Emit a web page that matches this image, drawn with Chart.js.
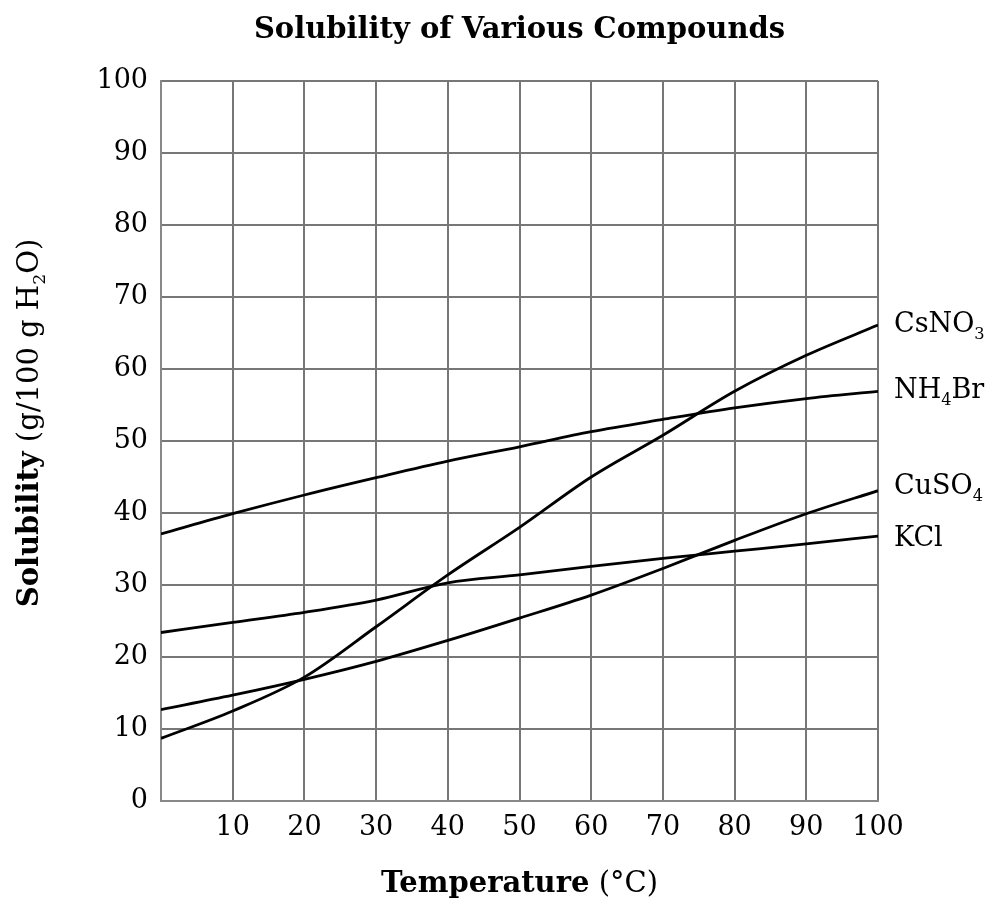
<!DOCTYPE html>
<html>
<head>
<meta charset="utf-8">
<script src="https://cdn.jsdelivr.net/npm/chart.js@4"></script>
<style>
  html, body { margin: 0; padding: 0; background: #fff; }
  #wrap { width: 998px; height: 913px; }
</style>
</head>
<body>
<div id="wrap"><canvas id="chart"></canvas></div>
<script>
// temperature (°C) and solubility (g/100 g H2O)
const temps = [0, 10, 20, 30, 40, 50, 60, 70, 80, 90, 100];
const csno3 = [8.7, 12.5, 17.2, 24.2, 31.4, 38.0, 45.0, 50.8, 56.9, 61.9, 66.1];
const nh4br = [37.1, 39.9, 42.5, 44.9, 47.2, 49.2, 51.3, 53.0, 54.6, 55.9, 56.9];
const cuso4 = [12.7, 14.7, 16.9, 19.4, 22.3, 25.4, 28.6, 32.3, 36.2, 39.9, 43.1];
const kcl = [23.4, 24.8, 26.2, 27.9, 30.3, 31.4, 32.6, 33.7, 34.7, 35.7, 36.8];

// curve labels, each part: text + subscript flag
const seriesNames = [
  [['CsNO'], ['3', 1]],
  [['NH'], ['4', 1], ['Br']],
  [['CuSO'], ['4', 1]],
  [['KCl']]
];
const seriesData = [csno3, nh4br, cuso4, kcl];
// small nudges so CuSO4 / KCl labels don't collide (px)
const labelNudge = [0, 0, -4, 3];

const SERIF = '"DejaVu Serif", serif';

function font(size, bold) {
  return (bold ? 'bold ' : '') + size + 'px ' + SERIF;
}

// draw text made of runs [text, sub?, bold?]
function drawRuns(ctx, runs, x, y, size, align) {
  let total = 0;
  const widths = runs.map(r => {
    const s = r[1] ? size * 0.6 : size;
    ctx.font = font(s, r[2]);
    const w = ctx.measureText(r[0]).width;
    total += w;
    return w;
  });
  let cx = align === 'center' ? x - total / 2 : x;
  ctx.textBaseline = 'middle';
  ctx.textAlign = 'left';
  runs.forEach((r, i) => {
    const s = r[1] ? size * 0.6 : size;
    ctx.font = font(s, r[2]);
    ctx.fillText(r[0], cx, r[1] ? y + size * 0.36 : y);
    cx += widths[i];
  });
}

const textPlugin = {
  id: 'texts',
  afterDraw(chart) {
    const ctx = chart.ctx;
    const area = chart.chartArea;
    const ys = chart.scales.y;
    ctx.save();
    ctx.fillStyle = '#000';

    // title
    drawRuns(ctx, [['Solubility of Various Compounds', 0, 1]], (area.left + area.right) / 2, 30, 29, 'center');

    // x axis title
    drawRuns(ctx, [['Temperature', 0, 1], [' (°C)', 0, 0]], (area.left + area.right) / 2, 884, 29, 'center');

    // y axis title, rotated
    ctx.save();
    ctx.translate(30, 423);
    ctx.rotate(-Math.PI / 2);
    drawRuns(ctx, [['Solubility', 0, 1], [' (g/100 g H', 0, 0], ['2', 1, 0], ['O)', 0, 0]], 0, 0, 29, 'center');
    ctx.restore();

    // curve labels at the right end of each line
    seriesNames.forEach((runs, i) => {
      const d = seriesData[i];
      const y = ys.getPixelForValue(d[d.length - 1]) + labelNudge[i];
      drawRuns(ctx, runs, area.right + 16, y, 27, 'left');
    });
    ctx.restore();
  }
};

function mkSet(values) {
  return {
    data: values.map((v, i) => ({ x: temps[i], y: v })),
    borderColor: '#000',
    borderWidth: 2.8,
    pointRadius: 0,
    fill: false,
    cubicInterpolationMode: 'monotone'
  };
}

new Chart(document.getElementById('chart'), {
  type: 'line',
  data: { datasets: seriesData.map(mkSet) },
  options: {
    responsive: true,
    maintainAspectRatio: false,
    animation: false,
    layout: { padding: { top: 81, right: 120, bottom: 0, left: 0 } },
    plugins: { legend: { display: false }, tooltip: { enabled: false } },
    scales: {
      x: {
        type: 'linear',
        min: 0,
        max: 100,
        ticks: {
          stepSize: 10,
          padding: 11,
          color: '#000',
          font: { family: SERIF, size: 27 },
          callback: v => (v === 0 ? '' : v)
        },
        grid: { color: '#777', lineWidth: 2, drawTicks: false },
        border: { color: '#888', width: 2 },
        afterFit: s => { s.height = 112; }
      },
      y: {
        min: 0,
        max: 100,
        ticks: {
          stepSize: 10,
          padding: 13,
          color: '#000',
          font: { family: SERIF, size: 27 }
        },
        grid: { color: '#777', lineWidth: 2, drawTicks: false },
        border: { color: '#888', width: 2 },
        afterFit: s => { s.width = 161; }
      }
    }
  },
  plugins: [textPlugin]
});
</script>
</body>
</html>
